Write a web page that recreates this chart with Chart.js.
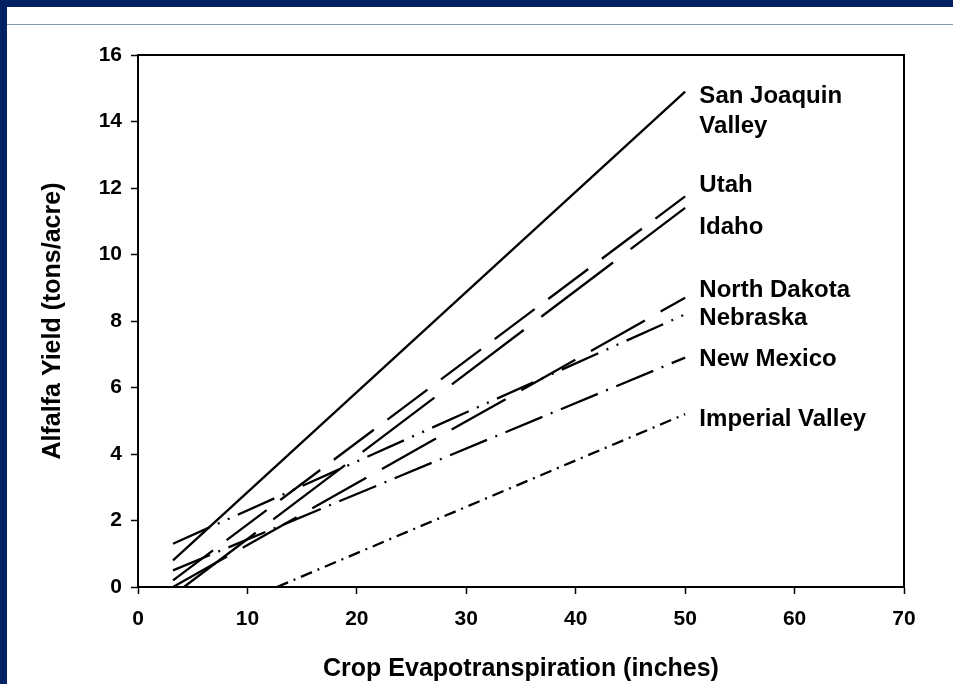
<!DOCTYPE html>
<html>
<head>
<meta charset="utf-8">
<script src="https://cdn.jsdelivr.net/npm/chart.js@4/dist/chart.umd.min.js"></script>
<style>
  html,body{margin:0;padding:0;background:#012163;}
  #frame{position:relative;width:953px;height:684px;overflow:hidden;background:#012163;}
  #panel{position:absolute;left:7px;top:7px;right:0;bottom:0;background:#fff;}
  #rule{position:absolute;left:7px;right:0;top:24px;height:1px;background:#8595b5;}
  #c{position:absolute;left:0;top:0;}
</style>
</head>
<body>
<div id="frame">
  <div id="panel"></div>
  <div id="rule"></div>
  <canvas id="c" width="953" height="684"></canvas>
</div>
<script>
// rectas de producción: rendimiento de alfalfa vs ET del cultivo, por región
const regions   = ['San Joaquin Valley','Utah','Idaho','North Dakota','Nebraska','New Mexico','Imperial Valley'];
const etStart   = [3.2, 3.2, 4.2, 3.2, 3.2, 3.2, 12.7];
const yldStart  = [0.8, 0.2, 0.0, 0.0, 1.3, 0.5, 0.0];
const etEnd     = [50, 50, 50, 50, 50, 50, 50];
const yldEnd    = [14.9, 11.75, 11.4, 8.7, 8.2, 6.9, 5.2];
const labelText = [['San Joaquin','Valley'],['Utah'],['Idaho'],['North Dakota'],['Nebraska'],['New Mexico'],['Imperial Valley']];
const labelYld  = [14.75, 12.07, 10.83, 8.93, 8.09, 6.86, 5.05];
const labelEt   = 51.3;
const xTicks    = [0,10,20,30,40,50,60,70];
const yTicks    = [0,2,4,6,8,10,12,14,16];

const dashes = [[], [50,17], [90,22], [62,18], [40,9,2,9,2,9], [40,9,2,9], [12,6,2,6]];
const ink = '#000';
const FONT = '"Liberation Sans", Arial, Helvetica, sans-serif';

const datasets = regions.map((r,i)=>({
  label:r,
  data:[{x:etStart[i],y:yldStart[i]},{x:etEnd[i],y:yldEnd[i]}],
  showLine:true, borderColor:ink, borderWidth:2.3, borderDash:dashes[i],
  pointRadius:0, fill:false, tension:0
}));

// nombres de región al final de cada recta + marco superior/derecho
const regionLabels={
  id:'regionLabels',
  afterDatasetsDraw(chart){
    const {ctx, chartArea:a, scales:{x,y}} = chart;
    ctx.save();
    ctx.strokeStyle=ink; ctx.lineWidth=2;
    ctx.beginPath(); ctx.moveTo(a.left,a.top); ctx.lineTo(a.right,a.top); ctx.lineTo(a.right,a.bottom); ctx.stroke();
    ctx.font='bold 24px '+FONT; ctx.fillStyle=ink; ctx.textBaseline='middle'; ctx.textAlign='left';
    labelText.forEach((lines,i)=>{
      const px=x.getPixelForValue(labelEt), py=y.getPixelForValue(labelYld[i]);
      lines.forEach((t,j)=>ctx.fillText(t,px,py+j*30));
    });
    ctx.restore();
  }
};

new Chart(document.getElementById('c'),{
  type:'scatter',
  data:{datasets},
  options:{
    responsive:false, animation:false,
    layout:{padding:{top:55,right:49,left:0,bottom:0}},
    plugins:{legend:{display:false},tooltip:{enabled:false}},
    scales:{
      x:{type:'linear',min:0,max:70,
        afterFit:s=>{s.height=97;},
        afterBuildTicks:s=>{s.ticks=xTicks.map(v=>({value:v}));},
        border:{display:true,color:ink,width:2},
        grid:{drawOnChartArea:false,drawTicks:true,tickLength:7,tickColor:ink,tickWidth:1.5,color:ink},
        ticks:{color:ink,padding:13,font:{family:FONT,size:21,weight:'bold'}},
        title:{display:true,text:'Crop Evapotranspiration (inches)',color:ink,padding:{top:0,bottom:0},font:{family:FONT,size:25,weight:'bold'}}},
      y:{type:'linear',min:0,max:16,
        afterFit:s=>{s.width=138;},
        afterBuildTicks:s=>{s.ticks=yTicks.map(v=>({value:v}));},
        border:{display:true,color:ink,width:2},
        grid:{drawOnChartArea:false,drawTicks:true,tickLength:7,tickColor:ink,tickWidth:1.5,color:ink},
        ticks:{color:ink,padding:9,font:{family:FONT,size:21,weight:'bold'}},
        title:{display:true,text:'Alfalfa Yield (tons/acre)',color:ink,padding:{top:38,bottom:0},font:{family:FONT,size:25,weight:'bold'}}}
    }
  },
  plugins:[regionLabels]
});
</script>
</body>
</html>
